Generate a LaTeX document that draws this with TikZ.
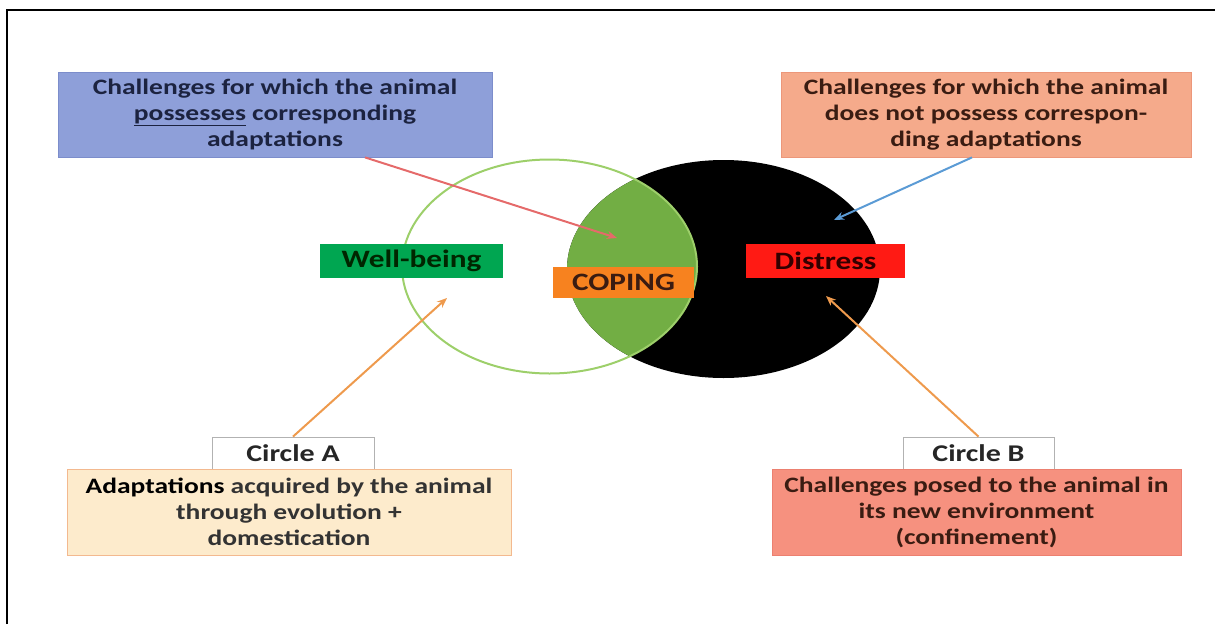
\documentclass[tikz,border=0pt]{standalone}
\usepackage{fontspec}
\newfontfamily\boxfont{Carlito}[FakeStretch=1.25]
\usetikzlibrary{arrows.meta}

\definecolor{topblue}{HTML}{8E9FD9}
\definecolor{topblueline}{HTML}{7C8DCB}
\definecolor{topsalmon}{HTML}{F5AA8B}
\definecolor{topsalmonline}{HTML}{EC977A}
\definecolor{wellgreen}{HTML}{00A651}
\definecolor{copeorange}{HTML}{F7821F}
\definecolor{distred}{HTML}{FF1A14}
\definecolor{adaptcream}{HTML}{FDEBCC}
\definecolor{adaptline}{HTML}{F3B98F}
\definecolor{challpink}{HTML}{F6917F}
\definecolor{challline}{HTML}{EC8070}
\definecolor{lensgreen}{HTML}{72AE44}
\definecolor{ringgreen}{HTML}{9DCF6A}
\definecolor{arrowred}{HTML}{E56A6A}
\definecolor{arrowblue}{HTML}{5B9BD5}
\definecolor{arroworange}{HTML}{EE9A4D}
\definecolor{navytext}{HTML}{1C2340}
\definecolor{browntext}{HTML}{3A1C12}

\begin{document}
\begin{tikzpicture}[x=1pt,y=-1pt,
  txtbox/.style={draw,line width=0.8pt,inner sep=0pt,align=center,
    font=\boxfont\bfseries\fontsize{22}{26}\selectfont},
  tagbox/.style={inner sep=0pt,font=\boxfont\bfseries\fontsize{25}{30}\selectfont},
  pointer/.style={-{Stealth[length=10pt,width=8pt]},line width=2pt}]
\useasboundingbox (0,0) rectangle (1215,624);
% frame
\draw[line width=2.5pt] (7,624) -- (7,10) -- (1215,10);

% the two circles
\fill[black] (723.5,269) ellipse [x radius=156.5,y radius=109];
\begin{scope}
\clip (549.5,266.5) ellipse [x radius=147.5,y radius=107];
\fill[lensgreen] (723.5,269) ellipse [x radius=156.5,y radius=109];
\end{scope}
\draw[ringgreen,line width=2pt] (549.5,266.5) ellipse [x radius=147.5,y radius=107];

% labels in the circles
\node[tagbox,fill=wellgreen,text=black!85!green,minimum width=183pt,minimum height=34pt] (well) at (411.5,261) {Well-being};
\node[tagbox,fill=copeorange,text=browntext,minimum width=141pt,minimum height=31pt] (coping) at (623.5,282.5) {COPING};
\node[tagbox,fill=distred,text=black!80!red,minimum width=159pt,minimum height=34pt] (distress) at (825.5,261) {Distress};

% boxes
\node[txtbox,fill=topblue,draw=topblueline,text=navytext,minimum width=434pt,minimum height=85pt] (possess) at (275,114.5)
  {Challenges for which the animal\\\underline{possesses} corresponding\\adaptations};
\node[txtbox,fill=topsalmon,draw=topsalmonline,text=browntext,minimum width=410pt,minimum height=85pt] (lack) at (986,114.5)
  {Challenges for which the animal\\does not possess correspon-\\ding adaptations};
\node[txtbox,fill=white,draw=black!30,text=black!85,font=\boxfont\bfseries\fontsize{24}{28}\selectfont,minimum width=162pt,minimum height=32pt] (circA) at (293,453) {Circle A};
\node[txtbox,fill=adaptcream,draw=adaptline,text=black!80,minimum width=444pt,minimum height=86pt] (adapt) at (289,512)
  {{\color{black}Adaptations} acquired by the animal\\through evolution +\\domestication};
\node[txtbox,fill=white,draw=black!30,text=black!85,font=\boxfont\bfseries\fontsize{24}{28}\selectfont,minimum width=151pt,minimum height=32pt] (circB) at (978.5,453) {Circle B};
\node[txtbox,fill=challpink,draw=challline,text=browntext,minimum width=409pt,minimum height=86pt] (posed) at (976.5,512)
  {Challenges posed to the animal in\\its new environment\\(confinement)};

% arrow ends
\coordinate (lenstip) at (617,238);
\coordinate (blacktip) at (834,220);
\coordinate (ringtip) at (447,298);
\coordinate (distip) at (826,296);

\draw[pointer,arrowred] ([xshift=90pt]possess.south) -- (lenstip);
\draw[pointer,arrowblue] ([xshift=-14pt]lack.south) -- (blacktip);
\draw[pointer,arroworange] (circA.north) -- (ringtip);
\draw[pointer,arroworange] (circB.north) -- (distip);
\end{tikzpicture}
\end{document}
